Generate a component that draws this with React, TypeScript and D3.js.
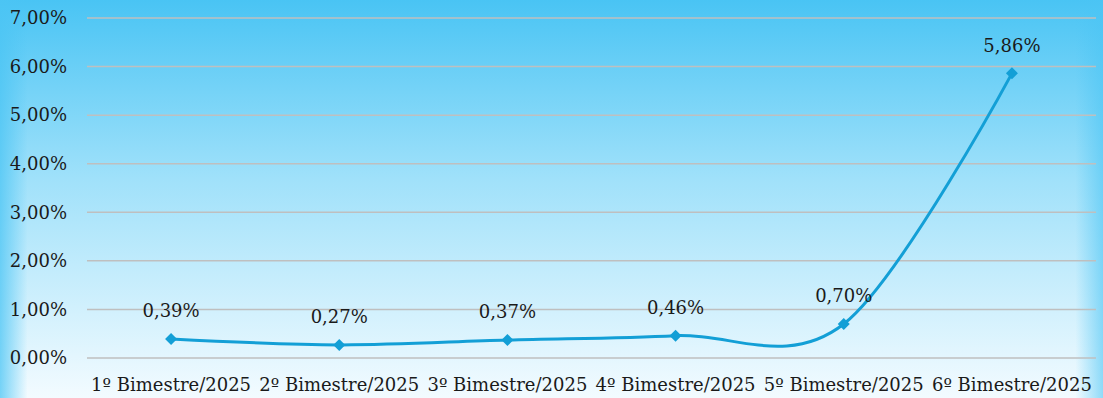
import React from "react";
import * as d3 from "d3";

const categories = [
  "1º Bimestre/2025",
  "2º Bimestre/2025",
  "3º Bimestre/2025",
  "4º Bimestre/2025",
  "5º Bimestre/2025",
  "6º Bimestre/2025",
];
const values = [0.39, 0.27, 0.37, 0.46, 0.7, 5.86];
const yTicks = [0, 1, 2, 3, 4, 5, 6, 7];

const W = 1103;
const H = 398;
const left = 87;
const right = 1096;
const top = 18;
const bottom = 358;
const FONT = "'DejaVu Serif', serif";
const FS = 18;
const fmt = (v: number) => v.toFixed(2).replace(".", ",") + "%";

export default function App() {
  const x = d3.scaleBand<string>().domain(categories).range([left, right]);
  const y = d3.scaleLinear().domain([0, 7]).range([bottom, top]);
  const pts: [number, number][] = values.map((v, i) => [
    (x(categories[i]) as number) + x.bandwidth() / 2,
    y(v),
  ]);
  const line = d3.line().curve(d3.curveCardinal.tension(0))(pts) as string;
  const marker = d3.symbol().type(d3.symbolSquare).size(72)() as string;

  return (
    <svg width={W} height={H} style={{ position: "absolute", left: 0, top: 0 }}>
      <defs>
        <linearGradient id="bgv" x1="0" y1="0" x2="0" y2="1">
          <stop offset="0" stopColor="#49c4f4" />
          <stop offset="0.45" stopColor="#a0e1fa" />
          <stop offset="1" stopColor="#f3fbff" />
        </linearGradient>
        <linearGradient id="bgh" x1="0" y1="0" x2="1" y2="0">
          <stop offset="0" stopColor="#4cc5f4" stopOpacity="0.75" />
          <stop offset="0.025" stopColor="#4cc5f4" stopOpacity="0" />
          <stop offset="0.975" stopColor="#4cc5f4" stopOpacity="0" />
          <stop offset="1" stopColor="#4cc5f4" stopOpacity="0.6" />
        </linearGradient>
      </defs>
      <rect x={0} y={0} width={W} height={H} fill="url(#bgv)" />
      <rect x={0} y={0} width={W} height={H} fill="url(#bgh)" />
      {yTicks.map((t) => (
        <g key={t}>
          <line x1={left} x2={right} y1={y(t)} y2={y(t)} stroke="#bfbfbf" strokeWidth={1.5} />
          <text
            x={67}
            y={y(t)}
            dy="0.35em"
            textAnchor="end"
            fontFamily={FONT}
            fontSize={FS}
            fill="#1a1a1a"
          >
            {fmt(t)}
          </text>
        </g>
      ))}
      {categories.map((c) => (
        <text
          key={c}
          x={(x(c) as number) + x.bandwidth() / 2}
          y={385}
          dy="0.35em"
          textAnchor="middle"
          fontFamily={FONT}
          fontSize={FS}
          fill="#1a1a1a"
        >
          {c}
        </text>
      ))}
      <path d={line} fill="none" stroke="#139fd6" strokeWidth={3} />
      {pts.map(([px, py], i) => (
        <g key={i}>
          <path d={marker} transform={`translate(${px},${py}) rotate(45)`} fill="#139fd6" />
          <text
            x={px}
            y={py - 28}
            dy="0.35em"
            textAnchor="middle"
            fontFamily={FONT}
            fontSize={FS}
            fill="#1a1a1a"
          >
            {fmt(values[i])}
          </text>
        </g>
      ))}
    </svg>
  );
}
